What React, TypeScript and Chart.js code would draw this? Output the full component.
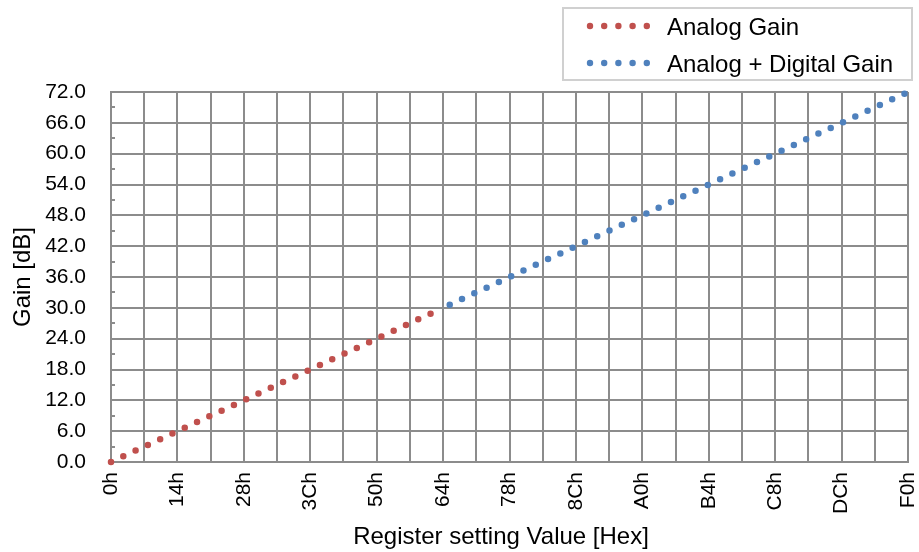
import React, { useEffect, useRef } from "react";
import { Chart, registerables } from "chart.js";

Chart.register(...registerables);

// ---- data ----
const analogX = [0, 98];
const analogY = [0, 29.4];
const digitalX = [102, 240];
const digitalY = [30.6, 72];
const xTickLabels = ["0h", "14h", "28h", "3Ch", "50h", "64h", "78h", "8Ch", "A0h", "B4h", "C8h", "DCh", "F0h"];
const yTickLabels = ["0.0", "6.0", "12.0", "18.0", "24.0", "30.0", "36.0", "42.0", "48.0", "54.0", "60.0", "66.0", "72.0"];
const seriesNames = ["Analog Gain", "Analog + Digital Gain"];
const seriesColors = ["#C0504D", "#4F81BD"];
const xAxisTitle = "Register setting Value [Hex]";
const yAxisTitle = "Gain [dB]";

const FONT = "'Liberation Sans', Arial, sans-serif";
const GRID = "#8c8c8c";

const extras = {
  id: "extras",
  afterDraw(chart: any) {
    const { ctx, scales } = chart;
    const y = scales.y;
    const left = chart.chartArea.left;
    ctx.save();
    // minor ticks on the value axis
    ctx.strokeStyle = GRID;
    ctx.lineWidth = 2;
    for (let v = 3; v < 72; v += 6) {
      const py = Math.round(y.getPixelForValue(v));
      ctx.beginPath();
      ctx.moveTo(left, py);
      ctx.lineTo(left + 4, py);
      ctx.stroke();
    }
    // x axis title
    ctx.fillStyle = "#000";
    ctx.font = `24px ${FONT}`;
    ctx.textAlign = "center";
    ctx.textBaseline = "middle";
    ctx.fillText(xAxisTitle, 501, 537);
    // legend box
    ctx.strokeStyle = "#d0d0d0";
    ctx.lineWidth = 2;
    ctx.strokeRect(563, 8, 349, 72);
    const rows = [26, 63];
    chart.data.datasets.forEach((ds: any, i: number) => {
      const cy = rows[i];
      ctx.fillStyle = ds.borderColor;
      for (let k = 0; k < 5; k++) {
        ctx.beginPath();
        ctx.arc(590 + k * 14.2, cy, 3.2, 0, Math.PI * 2);
        ctx.fill();
      }
      ctx.fillStyle = "#000";
      ctx.font = `24px ${FONT}`;
      ctx.textBaseline = "alphabetic";
      ctx.textAlign = "left";
      ctx.fillText(ds.label, 667, cy + 8.5);
    });
    ctx.restore();
  },
};

export default function App() {
  const ref = useRef<HTMLCanvasElement>(null);
  useEffect(() => {
    if (!ref.current) return;
    const mk = (xs: number[], ys: number[]) => xs.map((x, i) => ({ x, y: ys[i] }));
    const lineStyle = {
      borderWidth: 6.5,
      borderDash: [0, 13.55],
      borderCapStyle: "round",
      pointRadius: 0,
      clip: false,
    };
    const chart = new Chart(ref.current, {
      type: "line",
      data: {
        datasets: [
          {
            label: seriesNames[0],
            data: mk(analogX, analogY),
            borderColor: seriesColors[0],
            backgroundColor: seriesColors[0],
            ...lineStyle,
          } as any,
          {
            label: seriesNames[1],
            data: mk(digitalX, digitalY),
            borderColor: seriesColors[1],
            backgroundColor: seriesColors[1],
            ...lineStyle,
          } as any,
        ],
      },
      options: {
        animation: false,
        responsive: false,
        devicePixelRatio: 1,
        layout: { padding: { top: 92, right: 11, left: 0, bottom: 0 } },
        plugins: { legend: { display: false }, tooltip: { enabled: false } },
        scales: {
          x: {
            type: "linear",
            min: 0,
            max: 240,
            grid: { color: GRID, lineWidth: 2, drawTicks: false },
            border: { color: GRID, width: 2 },
            ticks: {
              stepSize: 10,
              autoSkip: false,
              maxRotation: 90,
              minRotation: 90,
              padding: 10,
              color: "#000",
              font: { family: FONT, size: 21 },
              callback: (v: any) => (Number(v) % 20 === 0 ? xTickLabels[Number(v) / 20] : ""),
            },
            title: { display: false },
            afterFit: (s: any) => {
              s.height = 90;
              s.paddingRight = 0;
              s.paddingLeft = 0;
            },
          },
          y: {
            type: "linear",
            min: 0,
            max: 72,
            grid: { color: GRID, lineWidth: 2, drawTicks: false },
            border: { color: GRID, width: 2 },
            ticks: {
              stepSize: 6,
              padding: 25,
              color: "#000",
              font: { family: FONT, size: 21 },
              callback: (v: any) => yTickLabels[Math.round(Number(v) / 6)],
            },
            title: {
              display: true,
              text: yAxisTitle,
              color: "#000",
              font: { family: FONT, size: 24 },
              padding: { top: 9, bottom: 0 },
            },
            afterFit: (s: any) => {
              s.width = 111;
              s.paddingTop = 0;
              s.paddingBottom = 0;
            },
          },
        },
      },
      plugins: [extras],
    });
    return () => chart.destroy();
  }, []);
  return (
    <div style={{ position: "fixed", left: 0, top: 0, width: 919, height: 552, background: "#fff" }}>
      <canvas ref={ref} width={919} height={552} style={{ width: 919, height: 552 }} />
    </div>
  );
}
